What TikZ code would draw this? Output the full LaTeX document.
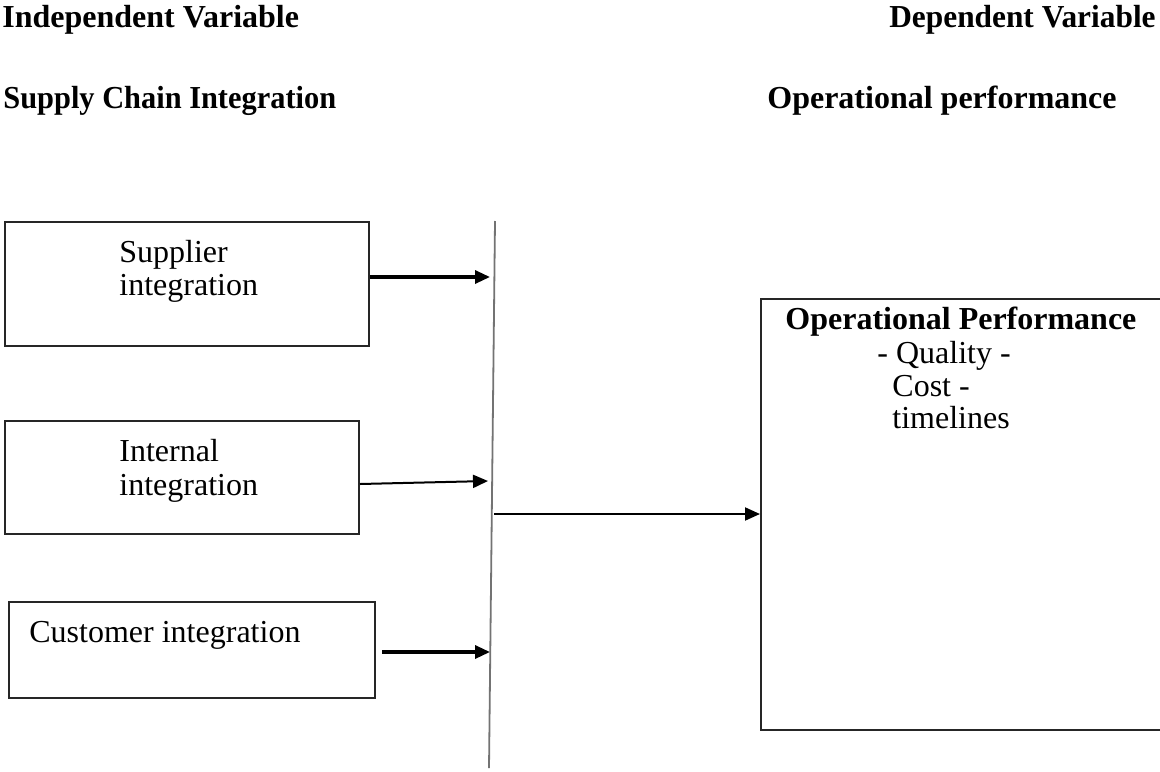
\documentclass[tikz,border=0pt]{standalone}
\usepackage{fontspec}
\setmainfont{Liberation Serif}
\usetikzlibrary{arrows.meta}
\begin{document}
\begin{tikzpicture}[x=0.5pt,y=-0.5pt,
  txt/.style={inner sep=0pt,anchor=base west,font=\fontsize{16}{16}\selectfont},
  btxt/.style={txt,font=\fontsize{16}{16}\selectfont\bfseries},
  box/.style={draw=black!85,line width=1pt,anchor=north west,inner sep=0pt},
  thickarrow/.style={line width=1.6pt,-{Triangle[length=7.5pt,width=6.5pt]}},
  thinarrow/.style={line width=1pt,-{Triangle[length=7.5pt,width=6.5pt]}},
  axis/.style={draw=black!55,line width=0.9pt}]
\useasboundingbox (0,0) rectangle (1160,771);
% headers
\node[btxt] (hiv) at (2,27) {Independent Variable};
\node[btxt,anchor=base east] (hdv) at (1156,27) {\scalebox{0.98}[1]{Dependent Variable}};
\node[btxt] (hsci) at (3,108) {\scalebox{0.95}[1]{Supply Chain Integration}};
\node[btxt,anchor=base east] (hop) at (1117,108) {Operational performance};
% left boxes
\node[box,minimum width=182pt,minimum height=62pt] (b1) at (4,221) {};
\node[box,minimum width=177pt,minimum height=56.5pt] (b2) at (4,420) {};
\node[box,minimum width=183pt,minimum height=48pt] (b3) at (8,601) {};
\node[txt] (t1a) at (119,262) {Supplier};
\node[txt] (t1b) at (119,295) {integration};
\node[txt] (t2a) at (119,461) {Internal};
\node[txt] (t2b) at (119,495) {integration};
\node[txt] (t3) at (29,642) {Customer integration};
% right box
\node[box,minimum width=204pt,minimum height=215.5pt] (op) at (760,298) {};
\node[btxt] (opt) at (785,329) {Operational Performance};
\node[txt] (q) at (877,363) {- Quality -};
\node[txt] (c) at (892,396) {Cost -};
\node[txt] (tl) at (892,428) {timelines};
% vertical line
\coordinate (vt) at (495,221);
\coordinate (vb) at (489,768);
\draw[axis] (vt) -- (vb);
% arrows
\coordinate (a1e) at (490,277);
\coordinate (a2s) at (b2.east |- 0,484);
\coordinate (a2e) at (488,481);
\coordinate (a3s) at (382,652);
\coordinate (a3e) at (490,652);
\coordinate (a4s) at (494,514);
\draw[thickarrow] (b1.east |- a1e) -- (a1e);
\draw[thinarrow] (a2s) -- (a2e);
\draw[thickarrow] (a3s) -- (a3e);
\draw[thinarrow] (a4s) -- (op.west |- a4s);
\end{tikzpicture}
\end{document}
